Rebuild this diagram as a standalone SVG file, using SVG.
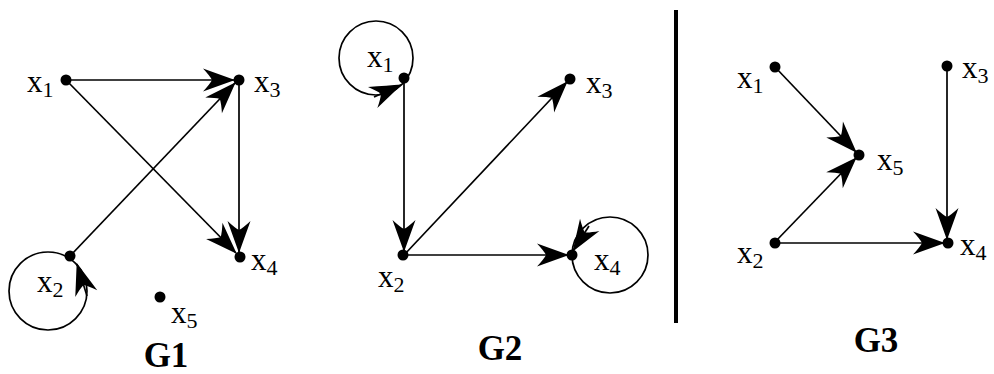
<svg xmlns="http://www.w3.org/2000/svg" width="994" height="374" viewBox="0 0 994 374">
<style>
.edge{stroke:#000;stroke-width:1.7;fill:none}
.arr{marker-end:url(#ah)}
.dot{fill:#000}
.lbl{font-family:"Liberation Serif","Times New Roman",serif;font-size:31px;fill:#000}
.sub{font-size:22px}
.title{font-family:"Liberation Serif","Times New Roman",serif;font-size:35px;font-weight:bold;fill:#000;text-anchor:middle}
</style>
<defs>
<marker id="ah" markerUnits="userSpaceOnUse" markerWidth="38" markerHeight="28" viewBox="-35 -14 38 28" refX="0" refY="0" orient="auto">
<path d="M1,0 Q-13,-5 -31,-11.5 Q-24,-4 -22,0 Q-24,4 -31,11.5 Q-13,5 1,0 Z" fill="#000"/>
</marker>
</defs>
<rect width="994" height="374" fill="#fff"/>
<g id="connectors">
<path class="edge arr" d="M66,80 L234,80"/>
<path class="edge arr" d="M66,80 L236,253"/>
<path class="edge arr" d="M70,256 L235,83"/>
<path class="edge arr" d="M239,80 L239,252"/>
<circle class="edge" cx="48" cy="291" r="39"/>
<path class="edge arr" d="M87,296 L77,264"/>
<path class="edge arr" d="M404,78 L404,251"/>
<path class="edge arr" d="M404,255 L567,82"/>
<path class="edge arr" d="M404,255 L568,255"/>
<circle class="edge" cx="376" cy="58" r="37"/>
<path class="edge arr" d="M374,97 L401,85"/>
<circle class="edge" cx="610" cy="255" r="38"/>
<path class="edge arr" d="M589,226 L573,251"/>
<path class="edge arr" d="M775,67 L856,152"/>
<path class="edge arr" d="M775,242 L856,158"/>
<path class="edge arr" d="M947,66 L947,239"/>
<path class="edge arr" d="M775,243 L944,243"/>
</g>
<line x1="676" y1="10" x2="676" y2="323" stroke="#000" stroke-width="4"/>
<g id="G1">
<g id="g1-x1"><circle class="dot" cx="66" cy="80" r="5.5"/><text class="lbl" x="27" y="92">x<tspan class="sub" dy="5">1</tspan></text></g>
<g id="g1-x3"><circle class="dot" cx="239" cy="80" r="5.5"/><text class="lbl" x="254" y="92">x<tspan class="sub" dy="5">3</tspan></text></g>
<g id="g1-x2"><circle class="dot" cx="70" cy="256" r="5.5"/><text class="lbl" x="37" y="292">x<tspan class="sub" dy="5">2</tspan></text></g>
<g id="g1-x4"><circle class="dot" cx="240" cy="257" r="5.5"/><text class="lbl" x="251" y="270">x<tspan class="sub" dy="5">4</tspan></text></g>
<g id="g1-x5"><circle class="dot" cx="160" cy="297" r="5.5"/><text class="lbl" x="171" y="323">x<tspan class="sub" dy="5">5</tspan></text></g>
<text class="title" x="166" y="367">G1</text>
</g>
<g id="G2">
<g id="g2-x1"><circle class="dot" cx="404" cy="78" r="5.5"/><text class="lbl" x="367" y="67">x<tspan class="sub" dy="5">1</tspan></text></g>
<g id="g2-x3"><circle class="dot" cx="570" cy="79" r="5.5"/><text class="lbl" x="586" y="93">x<tspan class="sub" dy="5">3</tspan></text></g>
<g id="g2-x2"><circle class="dot" cx="403" cy="255" r="5.5"/><text class="lbl" x="378" y="287">x<tspan class="sub" dy="5">2</tspan></text></g>
<g id="g2-x4"><circle class="dot" cx="572" cy="255" r="5.5"/><text class="lbl" x="594" y="270">x<tspan class="sub" dy="5">4</tspan></text></g>
<text class="title" x="500" y="360">G2</text>
</g>
<g id="G3">
<g id="g3-x1"><circle class="dot" cx="775" cy="67" r="5.5"/><text class="lbl" x="737" y="88">x<tspan class="sub" dy="5">1</tspan></text></g>
<g id="g3-x3"><circle class="dot" cx="947" cy="66" r="5.5"/><text class="lbl" x="962" y="78">x<tspan class="sub" dy="5">3</tspan></text></g>
<g id="g3-x5"><circle class="dot" cx="859" cy="155" r="5.5"/><text class="lbl" x="877" y="170">x<tspan class="sub" dy="5">5</tspan></text></g>
<g id="g3-x2"><circle class="dot" cx="775" cy="243" r="5.5"/><text class="lbl" x="737" y="263">x<tspan class="sub" dy="5">2</tspan></text></g>
<g id="g3-x4"><circle class="dot" cx="948" cy="243" r="5.5"/><text class="lbl" x="960" y="255">x<tspan class="sub" dy="5">4</tspan></text></g>
<text class="title" x="876" y="352">G3</text>
</g>
</svg>
